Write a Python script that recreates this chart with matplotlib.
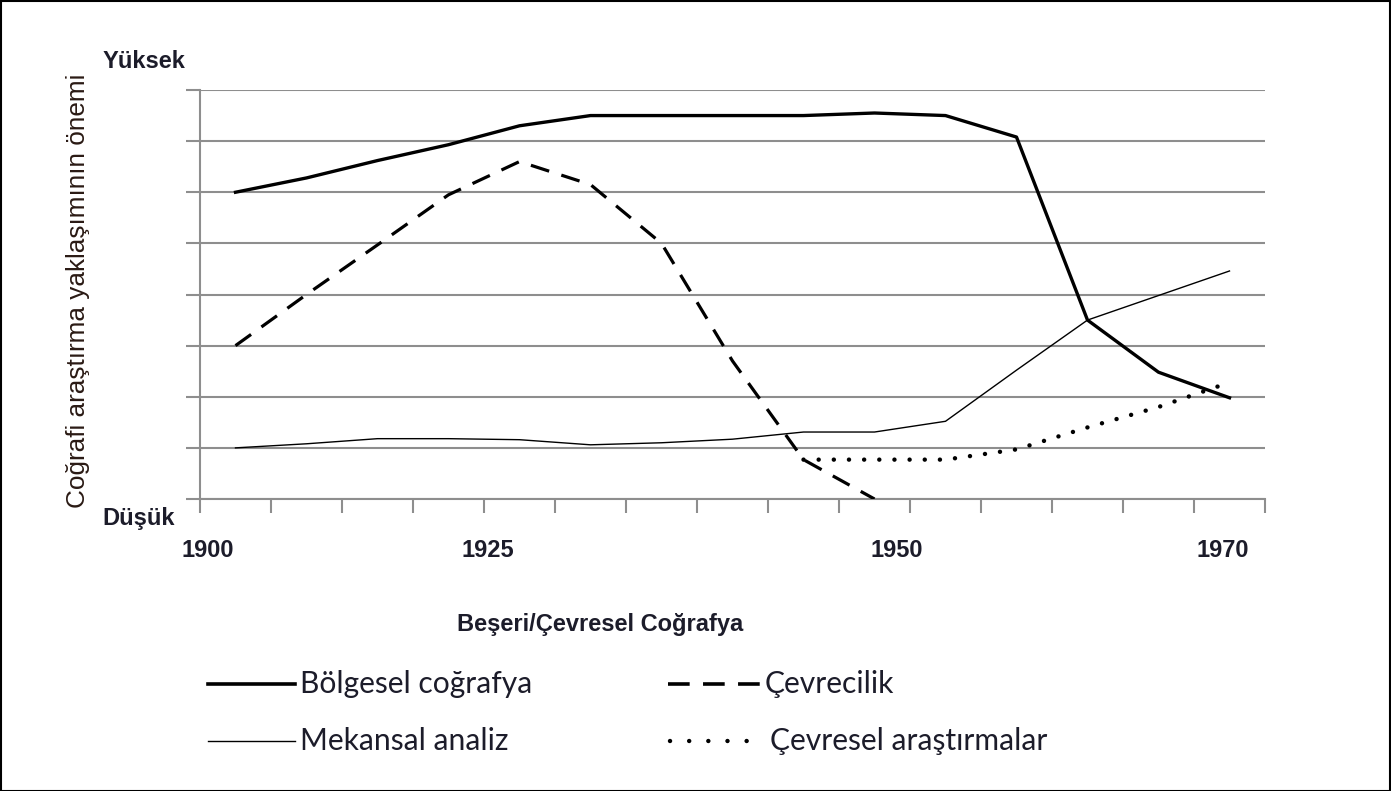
import numpy as np
import matplotlib
matplotlib.use("Agg")
import matplotlib.pyplot as plt
from matplotlib.lines import Line2D
from matplotlib.patches import Rectangle

# ---- data ----
steps = np.arange(15)  # evenly spaced time steps between 1900 and 1970
bolgesel = [6.0, 6.28, 6.62, 6.93, 7.3, 7.5, 7.5, 7.5, 7.5, 7.55, 7.5, 7.08, 3.5, 2.48, 1.98]
cevrecilik = [3.0, 4.0, 4.97, 5.95, 6.6, 6.15, 5.0, 2.7, 0.77, 0.0,
              np.nan, np.nan, np.nan, np.nan, np.nan]
mekansal = [1.0, 1.08, 1.18, 1.18, 1.16, 1.06, 1.1, 1.17, 1.31, 1.31, 1.52, 2.52, 3.5, 3.98, 4.46]
cevresel_arastirma = [np.nan] * 8 + [0.77, 0.77, 0.77, 0.97, 1.4, 1.8, 2.28]

year_labels = ["1900", "1925", "1950", "1970"]
year_pos = [-0.39, 3.56, 9.31, 13.91]

series_names = ["Bölgesel coğrafya", "Çevrecilik", "Mekansal analiz", "Çevresel araştırmalar"]
y_title = "Coğrafi araştırma yaklaşımının önemi"
x_title = "Beşeri/Çevresel Coğrafya"
y_high, y_low = "Yüksek", "Düşük"

# ---- style ----
W, H = 1391, 791
fig = plt.figure(figsize=(W / 100, H / 100), dpi=100)
ax = fig.add_axes([200 / W, 1 - 499 / H, 1065 / W, 409 / H])

narrow_bold = dict(family=["Liberation Sans Narrow", "Liberation Sans", "DejaVu Sans"], weight="bold")
narrow = dict(family=["Liberation Sans Narrow", "Liberation Sans", "DejaVu Sans"])
leg_font = dict(family=["Lato", "DejaVu Sans"])
grid_c = "#8e8e8e"
txt_c = "#1c1c2a"

ax.plot(steps, bolgesel, color="black", lw=2.4, solid_joinstyle="round", zorder=5)
ax.plot(steps, cevrecilik, color="black", lw=2.3, dashes=(6, 4), zorder=5)
ax.plot(steps, mekansal, color="black", lw=1.0, zorder=4)
ax.plot(steps, cevresel_arastirma, color="black", lw=3.2, dashes=(0.01, 3.4),
        dash_capstyle="round", zorder=5)

ax.set_xlim(-0.5, 14.5)
ax.set_ylim(0, 8)
ax.set_yticks(np.arange(0, 9))
ax.set_yticklabels([])
ax.yaxis.grid(True, color=grid_c, lw=1.5)
ax.set_axisbelow(True)
ax.tick_params(axis="y", length=10, width=1.5, color=grid_c, direction="out")

ax.set_xticks(year_pos)
ax.set_xticklabels(year_labels, fontsize=17, color=txt_c, **narrow_bold)
ax.set_xticks(np.arange(-0.5, 15, 1.0), minor=True)
ax.tick_params(axis="x", which="major", length=0, pad=28.5)
ax.tick_params(axis="x", which="minor", length=10, width=1.5, color=grid_c, direction="out")

for s in ["top", "right"]:
    ax.spines[s].set_visible(False)
for s in ["left", "bottom"]:
    ax.spines[s].set_color(grid_c)
    ax.spines[s].set_linewidth(1.5)

# texts
fig.text(144 / W, 1 - 61 / H, y_high, ha="center", va="center", fontsize=17, color=txt_c, **narrow_bold)
fig.text(139 / W, 1 - 518 / H, y_low, ha="center", va="center", fontsize=17, color=txt_c, **narrow_bold)
fig.text(78 / W, 1 - 291 / H, y_title, ha="center", va="center", rotation=90, fontsize=18.8,
         color="#2a1a14", **narrow)
fig.text(600 / W, 1 - 625 / H, x_title, ha="center", va="center", fontsize=17, color=txt_c, **narrow_bold)

# legend (manual)
def leg_line(x0, x1, y, **kw):
    fig.add_artist(Line2D([x0 / W, x1 / W], [1 - y / H, 1 - y / H], transform=fig.transFigure,
                          color="black", **kw))

leg_line(208, 295, 684, lw=2.6)
leg_line(668, 760, 684, lw=2.6, dashes=(6.0, 3.7))
leg_line(208, 295, 741, lw=1.0)
leg_line(670, 754, 741, lw=3.2, dashes=(0.01, 4.3), dash_capstyle="round")

fs_leg = 21.6
fig.text(300 / W, 1 - 684 / H, series_names[0], ha="left", va="center", fontsize=fs_leg, color=txt_c, **leg_font)
fig.text(765 / W, 1 - 684 / H, series_names[1], ha="left", va="center", fontsize=fs_leg, color=txt_c, **leg_font)
fig.text(300 / W, 1 - 741 / H, series_names[2], ha="left", va="center", fontsize=fs_leg, color=txt_c, **leg_font)
fig.text(770 / W, 1 - 741 / H, series_names[3], ha="left", va="center", fontsize=fs_leg, color=txt_c, **leg_font)

# outer frame
fig.add_artist(Rectangle((0.5 / W, 0.5 / H), 1 - 1.5 / W, 1 - 1.5 / H, transform=fig.transFigure,
                         fill=False, edgecolor="black", lw=1.5))

fig.savefig("out.png", dpi=100)
